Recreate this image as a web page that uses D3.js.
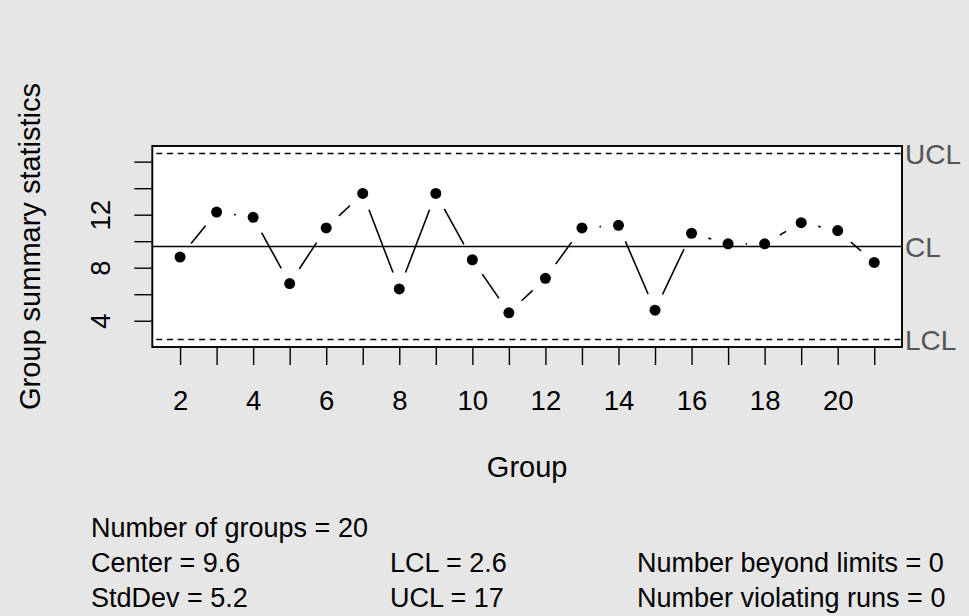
<!DOCTYPE html>
<html>
<head>
<meta charset="utf-8">
<script src="https://cdn.jsdelivr.net/npm/d3@7"></script>
<style>
  html, body { margin: 0; padding: 0; background: #e6e6e6; }
  svg { display: block; font-family: "Liberation Sans", Arial, Helvetica, sans-serif; }
</style>
</head>
<body>
<svg id="chart" width="969" height="616"></svg>
<script>
// Group summary statistics, one value per group
const groups = [2, 3, 4, 5, 6, 7, 8, 9, 10, 11, 12, 13, 14, 15, 16, 17, 18, 19, 20, 21];
const values = [8.8, 12.2, 11.8, 6.8, 11.0, 13.6, 6.4, 13.6, 8.6, 4.6,
                7.2, 11.0, 11.2, 4.8, 10.6, 9.8, 9.8, 11.4, 10.8, 8.4];

// Control limits and summary
const center = 9.6;
const lcl = 2.58;
const ucl = 16.62;
const stdDev = 5.2;
const beyondLimits = 0;
const violatingRuns = 0;

// Axis ticks
const xTicks = [2, 3, 4, 5, 6, 7, 8, 9, 10, 11, 12, 13, 14, 15, 16, 17, 18, 19, 20, 21];
const xTickLabels = [2, 4, 6, 8, 10, 12, 14, 16, 18, 20];
const yTicks = [4, 6, 8, 10, 12, 14, 16];
const yTickLabels = [4, 8, 12];

const svg = d3.select("#chart");
const W = 969, H = 616;
const box = { left: 152.3, right: 902, top: 146, bottom: 347 };

svg.append("rect").attr("width", W).attr("height", H).attr("fill", "#e6e6e6");

// Axis ranges extended by 4% as in base graphics
const xExt = (d3.max(groups) - d3.min(groups)) * 0.04;
const x = d3.scaleLinear()
  .domain([d3.min(groups) - xExt, d3.max(groups) + xExt])
  .range([box.left, box.right]);

const yLo = Math.min(lcl, d3.min(values)), yHi = Math.max(ucl, d3.max(values));
const yExt = (yHi - yLo) * 0.04;
const y = d3.scaleLinear()
  .domain([yLo - yExt, yHi + yExt])
  .range([box.bottom, box.top]);

// Plot region
svg.append("rect")
  .attr("x", box.left).attr("y", box.top)
  .attr("width", box.right - box.left).attr("height", box.bottom - box.top)
  .attr("fill", "#ffffff");

const plot = svg.append("g");

// Center line and control limits
plot.append("line")
  .attr("x1", box.left).attr("x2", box.right)
  .attr("y1", y(center)).attr("y2", y(center))
  .attr("stroke", "#000").attr("stroke-width", 1.6);

[lcl, ucl].forEach(v => {
  plot.append("line")
    .attr("x1", box.left).attr("x2", box.right)
    .attr("y1", y(v)).attr("y2", y(v))
    .attr("stroke", "#000").attr("stroke-width", 1.6)
    .attr("stroke-dasharray", "6,4.7")
    .attr("stroke-dashoffset", -4);
});

// Connecting segments with a gap around each point
const pts = groups.map((g, i) => [x(g), y(values[i])]);
const gap = 17.5;
for (let i = 0; i < pts.length - 1; i++) {
  const [x0, y0] = pts[i], [x1, y1] = pts[i + 1];
  const dx = x1 - x0, dy = y1 - y0, len = Math.hypot(dx, dy);
  if (len <= 2 * gap) continue;
  const ux = dx / len, uy = dy / len;
  plot.append("line")
    .attr("x1", x0 + ux * gap).attr("y1", y0 + uy * gap)
    .attr("x2", x1 - ux * gap).attr("y2", y1 - uy * gap)
    .attr("stroke", "#000").attr("stroke-width", 1.6);
}

plot.selectAll("circle.pt")
  .data(groups)
  .join("circle")
  .attr("class", "pt")
  .attr("cx", d => x(d))
  .attr("cy", (d, i) => y(values[i]))
  .attr("r", 5.5)
  .attr("fill", "#000");

// Frame
svg.append("rect")
  .attr("x", box.left).attr("y", box.top)
  .attr("width", box.right - box.left).attr("height", box.bottom - box.top)
  .attr("fill", "none").attr("stroke", "#000").attr("stroke-width", 1.9);

// X axis
const xAxis = d3.axisBottom(x)
  .tickValues(xTicks)
  .tickSize(18)
  .tickSizeOuter(0)
  .tickFormat(d => xTickLabels.includes(d) ? d : "");
const gx = svg.append("g").attr("transform", `translate(0,${box.bottom})`).call(xAxis);
gx.select(".domain").remove();
gx.selectAll(".tick line").attr("stroke", "#000").attr("stroke-width", 1.4);
gx.selectAll(".tick text")
  .attr("y", 0).attr("dy", 0)
  .attr("transform", "translate(0,63)")
  .attr("font-size", 27.5).attr("fill", "#000")
  .attr("font-family", "Liberation Sans, Arial, sans-serif");

// Y axis
const yAxis = d3.axisLeft(y)
  .tickValues(yTicks)
  .tickSize(18)
  .tickSizeOuter(0)
  .tickFormat(d => yTickLabels.includes(d) ? d : "");
const gy = svg.append("g").attr("transform", `translate(${box.left},0)`).call(yAxis);
gy.select(".domain").remove();
gy.selectAll(".tick line").attr("stroke", "#000").attr("stroke-width", 1.4);
gy.selectAll(".tick text")
  .attr("x", 0).attr("dy", 0)
  .attr("text-anchor", "middle")
  .attr("transform", "translate(-42,0) rotate(-90)")
  .attr("font-size", 27.5).attr("fill", "#000")
  .attr("font-family", "Liberation Sans, Arial, sans-serif");

// Axis titles
svg.append("text")
  .attr("x", (box.left + box.right) / 2).attr("y", 477)
  .attr("text-anchor", "middle")
  .attr("font-size", 29)
  .text("Group");

svg.append("text")
  .attr("transform", `translate(39.5,${(box.top + box.bottom) / 2}) rotate(-90)`)
  .attr("text-anchor", "middle")
  .attr("font-size", 29)
  .text("Group summary statistics");

// Limit labels on the right margin
[["UCL", ucl], ["CL", center], ["LCL", lcl]].forEach(([lab, v]) => {
  svg.append("text")
    .attr("x", 905).attr("y", y(v))
    .attr("dy", "0.37em")
    .attr("font-size", 28)
    .attr("fill", "#555555")
    .text(lab);
});

// Summary statistics below the chart
const fmt = d3.format(".2~r");
const stats = [
  [91, 537, `Number of groups = ${groups.length}`],
  [91, 572, `Center = ${fmt(center)}`],
  [91, 606.5, `StdDev = ${fmt(stdDev)}`],
  [390, 572, `LCL = ${fmt(lcl)}`],
  [390, 606.5, `UCL = ${fmt(ucl)}`],
  [637, 572, `Number beyond limits = ${beyondLimits}`],
  [637, 606.5, `Number violating runs = ${violatingRuns}`]
];
svg.selectAll("text.stat")
  .data(stats)
  .join("text")
  .attr("class", "stat")
  .attr("x", d => d[0]).attr("y", d => d[1])
  .attr("font-size", 27)
  .attr("fill", "#000")
  .text(d => d[2]);
</script>
</body>
</html>
